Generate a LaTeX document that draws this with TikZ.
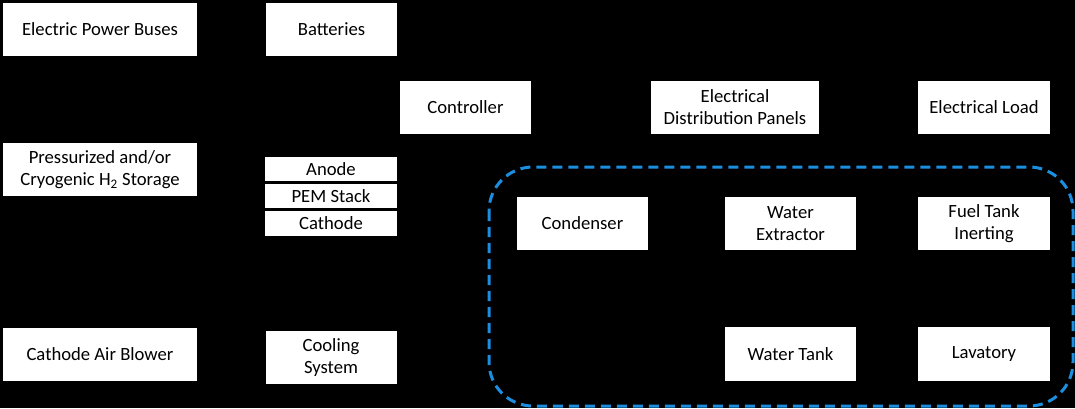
\documentclass[tikz,border=0pt]{standalone}
\usepackage{fontspec}
\setmainfont{Carlito}
\definecolor{loopblue}{RGB}{28,142,224}
\tikzset{
    blk/.style={draw=none, fill=white, inner sep=0pt, align=center,
        font=\fontsize{14}{16.5}\selectfont, minimum height=39.75pt},
    unit/.style={blk, minimum width=98.25pt},
    wide/.style={blk, minimum width=145.5pt},
    slab/.style={blk, minimum width=99pt, minimum height=18pt}
}
\begin{document}
\begin{tikzpicture}[x=0.75pt, y=-0.75pt]
    % canvas
    \fill[black] (0,0) rectangle (1075,408);
    \useasboundingbox (0,0) rectangle (1075,408);

    % left column
    \node[wide] (bus) at (100,29.5) {Electric Power Buses};
    \node[wide] (stor) at (100,169.5) {Pressurized and/or\\Cryogenic H\textsubscript{2} Storage};
    \node[wide] (blower) at (100,354.5) {Cathode Air Blower};

    % fuel cell column
    \node[unit] (bat) at (331.5,29.5) {Batteries};
    \node[slab] (anode) at (331,169) {Anode};
    \node[slab] (pem) at (331,196) {PEM Stack};
    \node[slab, minimum height=18.75pt] (cath) at (331,223.5) {Cathode};
    \node[unit] (cool) at (331,357.5) {Cooling\\System};

    % electrical chain
    \node[unit] (ctrl) at (465.5,107.5) {Controller};
    \node[blk, minimum width=126pt] (edp) at (735,107.5) {Electrical\\Distribution Panels};
    \node[unit, minimum width=99pt] (load) at (984,107.5) {Electrical Load};

    % water recovery loop
    \draw[loopblue, line width=2.25pt, dash pattern=on 7.5pt off 4.5pt, rounded corners=33pt]
        (489,167) rectangle (1073,406);
    \node[unit] (cond) at (582.5,223.5) {Condenser};
    \node[unit] (wext) at (790.5,223.5) {Water\\Extractor};
    \node[unit, minimum width=99pt] (fti) at (984,223.5) {Fuel Tank\\Inerting};
    \node[unit, minimum height=40.5pt] (wtank) at (790.5,354) {Water Tank};
    \node[unit, minimum width=99pt, minimum height=40.5pt] (lav) at (984,354) {Lavatory};
\end{tikzpicture}
\end{document}
